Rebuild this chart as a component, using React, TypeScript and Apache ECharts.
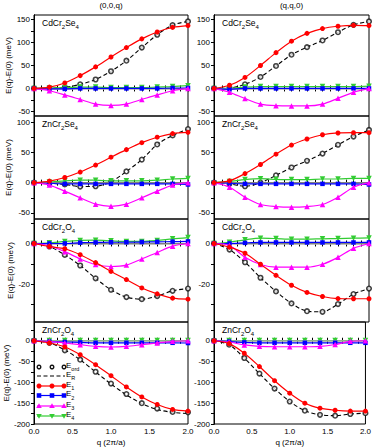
import React, { useEffect, useRef } from "react";
import * as echarts from "echarts";

// ---------- data ----------
const Q = [0, 0.2, 0.4, 0.6, 0.8, 1.0, 1.2, 1.4, 1.6, 1.8, 2.0];
const X_LABELS = [0, 0.5, 1.0, 1.5, 2.0];
const X_TICKS = [0, 0.1, 0.2, 0.3, 0.4, 0.5, 0.6, 0.7, 0.8, 0.9, 1.0, 1.1, 1.2, 1.3, 1.4, 1.5, 1.6, 1.7, 1.8, 1.9, 2.0];
const COLUMN_TITLES = ["(0,0,q)", "(q,q,0)"];

// CdCr2Se4 (0,0,q)
const cdSe00q_Eord = [0, 0.5, 2.5, 9, 19.5, 37.5, 60.5, 89, 117, 138, 146];
const cdSe00q_ER = [0, 0.5, 2.5, 9, 19.5, 37.5, 60.5, 89, 117, 138, 146];
const cdSe00q_E1 = [0, 3, 12, 28, 47, 68.5, 89, 108, 123, 133, 137];
const cdSe00q_E2 = [0, -1, -1, 0, 0, 0, 0, 0, 0, 1, 1];
const cdSe00q_E3 = [0, -5, -14, -24, -34, -37, -34, -24, -14, -5, 0];
const cdSe00q_E4 = [0, 1, 2, 3, 3, 2, 2, 2, 3, 4, 6];
// CdCr2Se4 (q,q,0)
const cdSeqq0_Eord = [0, 1, 9, 25, 49, 73.5, 90, 104.5, 122.5, 138.5, 146];
const cdSeqq0_ER = [0, 1, 9, 25, 49, 73.5, 90, 104.5, 122.5, 138.5, 146];
const cdSeqq0_E1 = [0, 7, 24, 50, 78, 103, 120, 130.5, 135.5, 137.5, 137];
const cdSeqq0_E2 = [0, -2, 0, 0, 0, 0, 0, 0, 0, 0, 0];
const cdSeqq0_E3 = [0, -8.5, -22, -34, -37.5, -38, -38, -34, -21.5, -8.5, 0];
const cdSeqq0_E4 = [0, 0, 3, 4, 4, 4, 4, 4, 4, 4, 5];
// ZnCr2Se4 (0,0,q)
const znSe00q_Eord = [0, -1, -3, -6.5, -6, 1.5, 18.5, 38, 63, 78, 88.5];
const znSe00q_ER = [0, -1, -3, -6.5, -6, 1.5, 18.5, 38, 63, 78, 88.5];
const znSe00q_E1 = [0, 2.5, 8.5, 17.5, 29, 42, 54.5, 66, 75, 81, 83];
const znSe00q_E2 = [0, -1, -2, -2, -2, -2, -2, -2, -2, -2, -3];
const znSe00q_E3 = [0, -4, -14, -25, -35.5, -39, -35.5, -25, -14, -4, 0];
const znSe00q_E4 = [0, 1, 3, 4, 4, 3, 3, 3, 4, 6, 7];
// ZnCr2Se4 (q,q,0)
const znSeqq0_Eord = [0, -2, -6, 0, 12, 25, 36, 48, 62.5, 76, 87];
const znSeqq0_ER = [0, -2, -6, 0, 12, 25, 36, 48, 62.5, 76, 87];
const znSeqq0_E1 = [0, 3, 15, 30, 47, 62, 72, 79, 82, 82.5, 82.5];
const znSeqq0_E2 = [0, -1, -2, -2, -2, -2, -2, -2, -2, -2, -3];
const znSeqq0_E3 = [0, -7.5, -24, -36, -39.5, -40.5, -39.5, -36, -24, -7.5, 0];
const znSeqq0_E4 = [0, 2, 5, 6.5, 5.5, 5, 5, 6, 6, 7, 7];
// CdCr2O4 (0,0,q)
const cdO00q_Eord = [0, -1.5, -5.6, -10.8, -17.1, -22.7, -26.3, -27.3, -25.8, -23.2, -22.1];
const cdO00q_ER = [0, -1.5, -5.6, -10.8, -17.1, -22.7, -26.3, -27.3, -25.8, -23.2, -22.1];
const cdO00q_E1 = [0, -1.5, -2.6, -5.5, -9.4, -13.7, -17.7, -21.8, -24.7, -26.8, -27.3];
const cdO00q_E2 = [0, 0, 0, 0.4, 0.5, 0.6, 0.6, 0.7, 0.8, 0.9, 1];
const cdO00q_E3 = [0, -1.1, -4, -7.6, -10.3, -11.3, -10.6, -7.6, -4.4, -1.3, 0];
const cdO00q_E4 = [0, 0.3, 1, 1.5, 1.6, 1.3, 1, 1, 1.5, 2.3, 2.9];
// CdCr2O4 (q,q,0)
const cdOqq0_Eord = [0, -3, -9.2, -16.8, -23.5, -29.4, -33.2, -33.5, -29.7, -24.8, -22.1];
const cdOqq0_ER = [0, -3, -9.2, -16.8, -23.5, -29.4, -33.2, -33.5, -29.7, -24.8, -22.1];
const cdOqq0_E1 = [0, -1.8, -4.8, -10.2, -15.6, -20.5, -24, -26, -27, -27.1, -27.1];
const cdOqq0_E2 = [0, 0, 0.3, 0.5, 0.5, 0.5, 0.5, 0.5, 0.5, 0.5, 0.5];
const cdOqq0_E3 = [0, -1, -6.8, -10.3, -11.6, -11.6, -11.6, -10.2, -6.8, -2.4, 0];
const cdOqq0_E4 = [0, 0.6, 1.8, 2.6, 2.4, 2.1, 2.1, 2.3, 2.4, 2.6, 2.7];
// ZnCr2O4 (0,0,q)
const znO00q_Eord = [0, -5, -23, -45.5, -74.5, -103, -128, -150, -163, -171, -172];
const znO00q_ER = [0, -5, -22, -46, -75, -104, -130, -151, -165, -172, -175];
const znO00q_E1 = [0, -5.5, -15, -33.5, -57.5, -84, -111, -135, -153, -165, -169];
const znO00q_E2 = [0, -2, -3, -4, -5, -5, -5, -5, -5, -5, -5.5];
const znO00q_E3 = [0, -1.5, -5.5, -9.5, -13.5, -15, -13.5, -9.5, -5.5, -1.5, 0];
const znO00q_E4 = [0, 0.5, 0.5, 0.5, 0.5, 0.5, 0.5, 0.5, 0.5, 0.5, 0.5];
// ZnCr2O4 (q,q,0)
const znOqq0_Eord = [0, -9.5, -41.5, -79, -115, -146, -168, -178, -180, -176, -174];
const znOqq0_ER = [0, -9.5, -41.5, -79, -115, -146, -168, -178, -180, -176, -174];
const znOqq0_E1 = [0, -7, -30, -62, -96, -126, -150, -162, -167, -169, -169];
const znOqq0_E2 = [0, -2, -4, -5, -5, -5, -5, -5, -5, -5, -5];
const znOqq0_E3 = [0, -3, -10, -13.5, -14.5, -14.5, -14.5, -13.5, -9, -1.5, 0];
const znOqq0_E4 = [0, 0.5, 0.5, 0.5, 0.5, 0.5, 0.5, 0.5, 0.5, 0.5, 0.5];

// y-axis ranges / ticks per row
const ROW_MIN = [-60, -60, -38.5, -200];
const ROW_MAX = [160, 110, 12, 45];
const ROW_LABELS = [
  [-50, 0, 50, 100, 150],
  [-50, 0, 50, 100],
  [-20, 0],
  [-200, -150, -100, -50, 0],
];
const ROW_TICKS = [
  [-50, -25, 0, 25, 50, 75, 100, 125, 150],
  [-50, -25, 0, 25, 50, 75, 100],
  [-30, -20, -10, 0, 10],
  [-200, -175, -150, -125, -100, -75, -50, -25, 0, 25],
];
// compound names: [base, sub, base, sub]
const ROW_NAMES = [
  ["CdCr", "2", "Se", "4"],
  ["ZnCr", "2", "Se", "4"],
  ["CdCr", "2", "O", "4"],
  ["ZnCr", "2", "O", "4"],
];
const PANEL_DATA = [
  [cdSe00q_Eord, cdSe00q_ER, cdSe00q_E1, cdSe00q_E2, cdSe00q_E3, cdSe00q_E4],
  [cdSeqq0_Eord, cdSeqq0_ER, cdSeqq0_E1, cdSeqq0_E2, cdSeqq0_E3, cdSeqq0_E4],
  [znSe00q_Eord, znSe00q_ER, znSe00q_E1, znSe00q_E2, znSe00q_E3, znSe00q_E4],
  [znSeqq0_Eord, znSeqq0_ER, znSeqq0_E1, znSeqq0_E2, znSeqq0_E3, znSeqq0_E4],
  [cdO00q_Eord, cdO00q_ER, cdO00q_E1, cdO00q_E2, cdO00q_E3, cdO00q_E4],
  [cdOqq0_Eord, cdOqq0_ER, cdOqq0_E1, cdOqq0_E2, cdOqq0_E3, cdOqq0_E4],
  [znO00q_Eord, znO00q_ER, znO00q_E1, znO00q_E2, znO00q_E3, znO00q_E4],
  [znOqq0_Eord, znOqq0_ER, znOqq0_E1, znOqq0_E2, znOqq0_E3, znOqq0_E4],
];
const LEGEND_NAMES = [["E", "ord"], ["E", "R"], ["E", "1"], ["E", "2"], ["E", "3"], ["E", "4"]];

// ---------- styles / layout ----------
const FONT = "Liberation Sans, Arial, sans-serif";
const RED = "#ff0000";
const BLUE = "#0000ff";
const MAGENTA = "#ff00ff";
const GREEN = "#33cc33";
const ROW_TOP = [15, 116, 219, 322];
const ROW_H = [101, 103, 103, 102];
const COL_LEFT = [34, 214];
const COL_W = [154, 155];

const pair = (ys: number[]) => Q.map((q, i) => [q, ys[i]]);

function buildOption() {
  const grid: any[] = [];
  const xAxis: any[] = [];
  const yAxis: any[] = [];
  const series: any[] = [];
  const graphic: any[] = [];
  const sub = {
    b: { fontSize: 8.5, fontFamily: FONT, color: "#000", verticalAlign: "top", lineHeight: 12 },
    s: { fontSize: 6, fontFamily: FONT, color: "#000", verticalAlign: "bottom", lineHeight: 5 },
  };

  for (let row = 0; row < 4; row++) {
    for (let col = 0; col < 2; col++) {
      const g = row * 2 + col;
      grid.push({
        left: COL_LEFT[col],
        top: ROW_TOP[row],
        width: COL_W[col],
        height: ROW_H[row],
        show: true,
        borderColor: "#000",
        borderWidth: 1,
        backgroundColor: "transparent",
      });
      const last = row === 3;
      // bottom x axis
      xAxis.push({
        type: "value",
        gridIndex: g,
        min: 0,
        max: 2,
        position: "bottom",
        axisLine: { show: true, lineStyle: { color: "#000", width: 1 } },
        axisTick: { show: true, inside: true, length: 3, customValues: X_TICKS, lineStyle: { color: "#000" } },
        axisLabel: {
          show: last,
          customValues: X_LABELS,
          formatter: (v: number) => v.toFixed(1),
          fontSize: 8,
          fontFamily: FONT,
          color: "#000",
          margin: 3,
        },
        splitLine: { show: false },
        name: last ? "q (2\u03c0/a)" : "",
        nameLocation: "middle",
        nameGap: 14,
        nameTextStyle: { fontSize: 8, fontFamily: FONT, color: "#000" },
      });
      // top x axis (ticks only)
      xAxis.push({
        type: "value",
        gridIndex: g,
        min: 0,
        max: 2,
        position: "top",
        axisLine: { show: true, lineStyle: { color: "#000", width: 1 } },
        axisTick: { show: true, inside: true, length: 3, customValues: X_TICKS, lineStyle: { color: "#000" } },
        axisLabel: { show: false },
        splitLine: { show: false },
      });
      // left y axis
      yAxis.push({
        type: "value",
        gridIndex: g,
        min: ROW_MIN[row],
        max: ROW_MAX[row],
        position: "left",
        axisLine: { show: true, lineStyle: { color: "#000", width: 1 } },
        axisTick: { show: true, inside: false, length: 3, customValues: ROW_TICKS[row], lineStyle: { color: "#000" } },
        axisLabel: {
          show: true,
          customValues: ROW_LABELS[row],
          fontSize: 8,
          fontFamily: FONT,
          color: "#000",
          margin: 4,
        },
        splitLine: { show: false },
        name: col === 0 ? "E(q)-E(0) (meV)" : "",
        nameLocation: "middle",
        nameGap: 19,
        nameRotate: 90,
        nameTextStyle: { fontSize: 8, fontFamily: FONT, color: "#000" },
      });
      // right y axis (ticks only)
      yAxis.push({
        type: "value",
        gridIndex: g,
        min: ROW_MIN[row],
        max: ROW_MAX[row],
        position: "right",
        axisLine: { show: true, lineStyle: { color: "#000", width: 1 } },
        axisTick: { show: true, inside: true, length: 3, customValues: ROW_TICKS[row], lineStyle: { color: "#000" } },
        axisLabel: { show: false },
        splitLine: { show: false },
      });

      const xi = g * 2;
      const yi = g * 2;
      const [eord, er, e1, e2, e3, e4] = PANEL_DATA[g];
      series.push({
        type: "line",
        xAxisIndex: xi,
        yAxisIndex: yi,
        data: pair(er),
        smooth: 0.3,
        showSymbol: false,
        symbol: "none",
        lineStyle: { color: "#000", width: 1.1, type: [4, 2.5] },
        z: 2,
        markLine: {
          silent: true,
          symbol: "none",
          label: { show: false },
          lineStyle: { color: "#aaaaaa", width: 1.5, type: "solid" },
          data: [{ yAxis: 0 }],
        },
      });
      series.push({
        type: "scatter",
        xAxisIndex: xi,
        yAxisIndex: yi,
        data: pair(eord),
        symbol: "circle",
        symbolSize: 4.5,
        itemStyle: { color: "#ffffff", borderColor: "#111", borderWidth: 1.6 },
        z: 3,
      });
      const mk = (d: number[], color: string, symbol: string, size: number, rot = 0, z = 4) => ({
        type: "line",
        xAxisIndex: xi,
        yAxisIndex: yi,
        data: pair(d),
        smooth: 0.3,
        symbol,
        symbolSize: size,
        symbolRotate: rot,
        lineStyle: { color, width: 1.2 },
        itemStyle: { color },
        z,
      });
      series.push(mk(e4, GREEN, "triangle", 5.5, 180, 4));
      series.push(mk(e2, BLUE, "rect", 4.5, 0, 5));
      series.push(mk(e3, MAGENTA, "triangle", 5.5, 0, 6));
      series.push(mk(e1, RED, "circle", 5, 0, 7));

      // panel label
      const nm = ROW_NAMES[row];
      graphic.push({
        type: "text",
        x: COL_LEFT[col] + 8,
        y: ROW_TOP[row] + 3,
        z: 100,
        style: {
          text: `{b|${nm[0]}}{s|${nm[1]}}{b|${nm[2]}}{s|${nm[3]}}`,
          rich: sub,
          fill: "#000",
        },
      });
    }
  }

  // column titles
  COLUMN_TITLES.forEach((t, c) => {
    graphic.push({
      type: "text",
      x: COL_LEFT[c] + COL_W[c] / 2,
      y: 1,
      style: { text: t, fontSize: 8, fontFamily: FONT, fill: "#000", align: "center", verticalAlign: "top" },
    });
  });

  // legend (inside bottom-left panel)
  const lx0 = 37;
  const lx1 = 65;
  const mx = [39, 52, 64];
  const ly = [367, 376, 386, 395.5, 406, 416];
  const legendColors = ["#111", "#000", RED, BLUE, MAGENTA, GREEN];
  ly.forEach((y, i) => {
    const c = legendColors[i];
    if (i === 1) {
      graphic.push({ type: "line", shape: { x1: lx0, y1: y, x2: lx1, y2: y }, style: { stroke: "#000", lineWidth: 1.1, lineDash: [4, 2.5] }, z: 100 });
    } else if (i >= 2) {
      graphic.push({ type: "line", shape: { x1: lx0, y1: y, x2: lx1, y2: y }, style: { stroke: c, lineWidth: 1.2 }, z: 100 });
    }
    if (i !== 1) {
      mx.forEach((x) => {
        if (i === 0) {
          graphic.push({ type: "circle", shape: { cx: x, cy: y, r: 1.8 }, style: { fill: "#fff", stroke: c, lineWidth: 1.4 }, z: 101 });
        } else if (i === 2) {
          graphic.push({ type: "circle", shape: { cx: x, cy: y, r: 2.5 }, style: { fill: c }, z: 101 });
        } else if (i === 3) {
          graphic.push({ type: "rect", shape: { x: x - 2.3, y: y - 2.3, width: 4.6, height: 4.6 }, style: { fill: c }, z: 101 });
        } else if (i === 4) {
          graphic.push({ type: "polygon", shape: { points: [[x, y - 2.8], [x + 2.8, y + 2], [x - 2.8, y + 2]] }, style: { fill: c }, z: 101 });
        } else {
          graphic.push({ type: "polygon", shape: { points: [[x, y + 2.8], [x + 2.8, y - 2], [x - 2.8, y - 2]] }, style: { fill: c }, z: 101 });
        }
      });
    }
    const [b, s] = LEGEND_NAMES[i];
    graphic.push({
      type: "text",
      x: 66,
      y: y - 6,
      z: 101,
      style: {
        text: `{b|${b}}{s|${s}}`,
        rich: {
          b: { fontSize: 8, fontFamily: FONT, color: "#000", verticalAlign: "top", lineHeight: 11 },
          s: { fontSize: 5.5, fontFamily: FONT, color: "#000", verticalAlign: "bottom", lineHeight: 4 },
        },
      },
    });
  });

  return {
    animation: false,
    backgroundColor: "#fff",
    grid,
    xAxis,
    yAxis,
    series,
    graphic,
  };
}

export default function App() {
  const ref = useRef<HTMLDivElement>(null);
  useEffect(() => {
    if (!ref.current) return;
    const chart = echarts.init(ref.current, undefined, { renderer: "svg" });
    chart.setOption(buildOption() as any);
    return () => chart.dispose();
  }, []);
  return (
    <div
      ref={ref}
      style={{ position: "fixed", left: 0, top: 0, width: 374, height: 448, background: "#fff" }}
    />
  );
}
